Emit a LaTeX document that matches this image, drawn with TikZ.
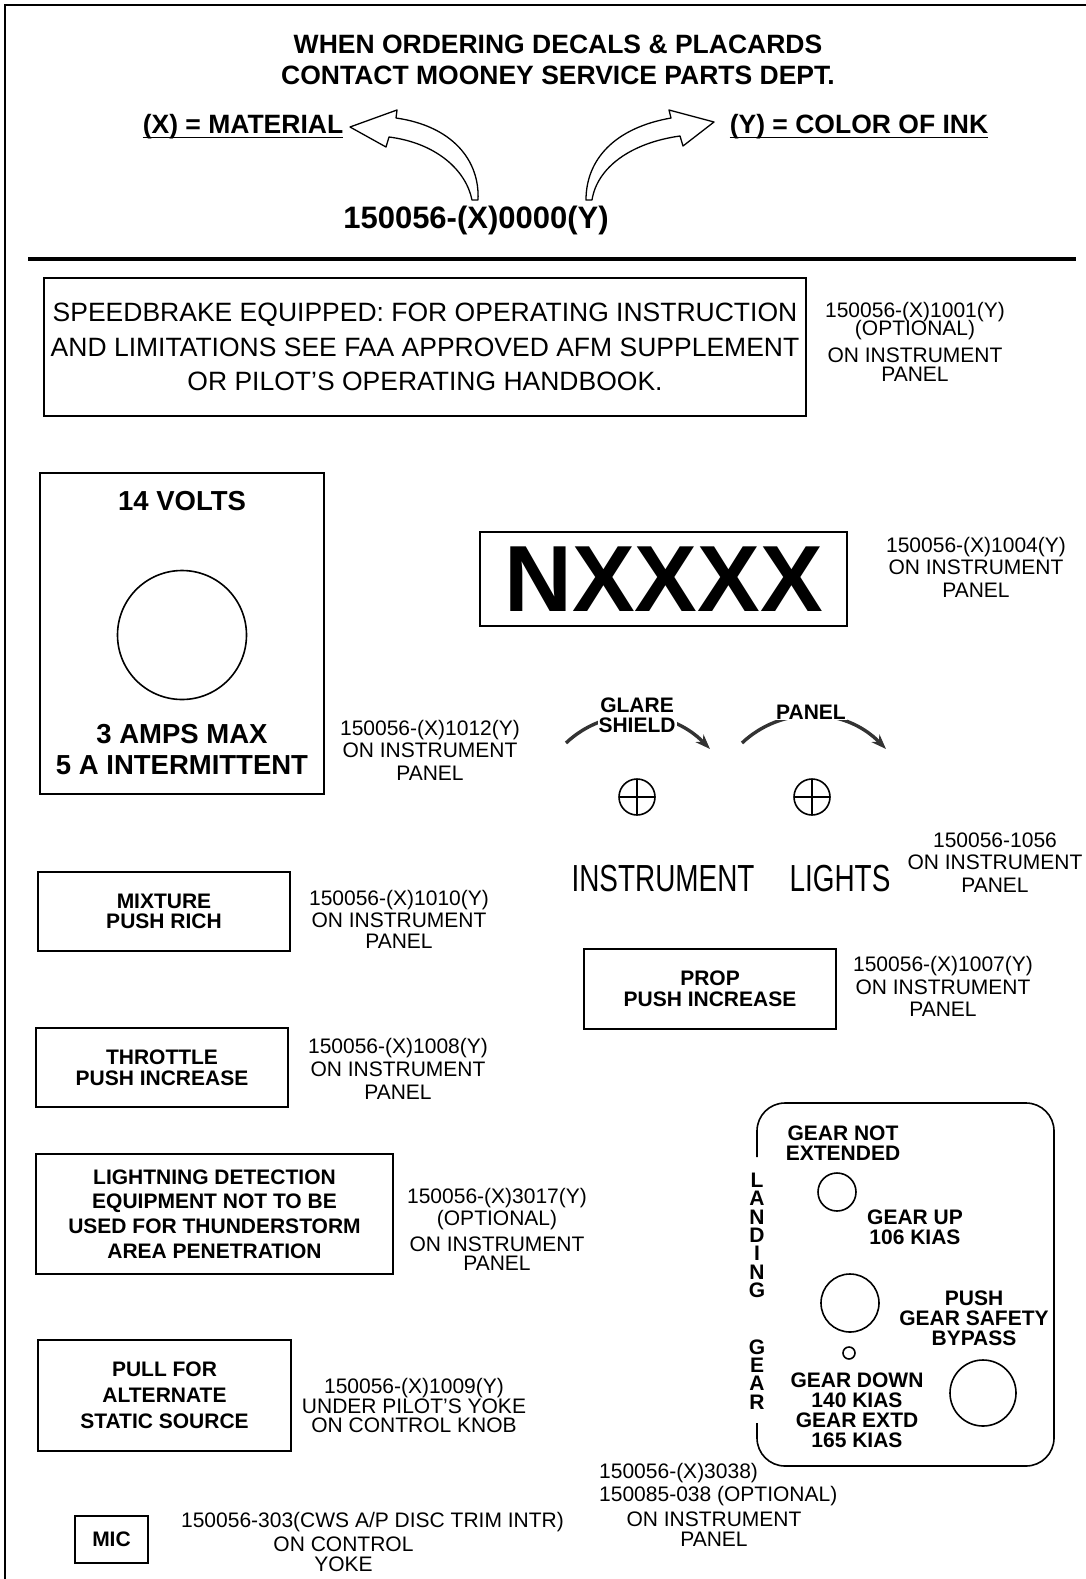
\documentclass[tikz,border=0pt]{standalone}
\usepackage{fontspec}
\setmainfont{Liberation Sans}
\newfontfamily\narrowfont[FakeStretch=0.74]{Liberation Sans}
\usetikzlibrary{arrows.meta}

\tikzset{
  lbl/.style={font=\fontsize{21}{22.5}\selectfont, align=center, inner sep=0pt},
  boldtxt/.style={font=\bfseries\fontsize{21}{20}\selectfont, align=center, inner sep=0pt},
  plac/.style={draw, line width=1.6pt, inner sep=0pt, align=center, font=\bfseries\fontsize{21}{21}\selectfont},
  hollowarrow/.style={draw, line width=1.3pt, fill=white, line join=round},
  knob/.style={line width=1.6pt},
  swing/.style={line width=3.4pt, draw=black!80, -{Stealth[length=15pt, width=11pt]}},
}

\begin{document}
\begin{tikzpicture}[x=1pt, y=-1pt]
  \useasboundingbox (0,0) rectangle (1086,1579);
  %cadre
  \draw[line width=2.4pt] (1086,5) -- (5,5) -- (5,1579);
  \draw[line width=3.5pt] (28,259) -- (1076,259);
  %commande
  \node[boldtxt, font=\bfseries\fontsize{26.5}{31.5}\selectfont] (order) at (558,60)
    {WHEN ORDERING DECALS \& PLACARDS\\CONTACT MOONEY SERVICE PARTS DEPT.};
  \node[boldtxt, font=\bfseries\fontsize{26.5}{30}\selectfont] (matX) at (243,127) {(X) = MATERIAL};
  \node[boldtxt, font=\bfseries\fontsize{26.5}{30}\selectfont] (inkY) at (859,127) {(Y) = COLOR OF INK};
  \draw[line width=1.6pt] ([yshift=2pt]matX.south west) -- ([yshift=2pt]matX.south east);
  \draw[line width=1.6pt] ([yshift=2pt]inkY.south west) -- ([yshift=2pt]inkY.south east);
  \node[boldtxt, font=\bfseries\fontsize{31}{31}\selectfont] (partno) at (476,220) {150056-(X)0000(Y)};
  %fleches creuses
  \draw[hollowarrow] (350,127) -- (397,110) -- (396,118) .. controls (452,126) and (480,160) .. (478,200)
    -- (472,200) .. controls (466,170) and (436,143) .. (389,137) -- (386,147) -- cycle;
  \draw[hollowarrow] (714,122) -- (669,110) -- (671,118) .. controls (614,128) and (586,160) .. (586,200)
    -- (592,200) .. controls (597,168) and (630,143) .. (680,136) -- (683,146) -- cycle;

  %speedbrake
  \node[plac, font=\fontsize{26.5}{34.5}\selectfont, minimum width=762pt, minimum height=138pt] (speed) at (425,347)
    {SPEEDBRAKE EQUIPPED: FOR OPERATING INSTRUCTION\\AND LIMITATIONS SEE FAA APPROVED AFM SUPPLEMENT\\OR PILOT'S OPERATING HANDBOOK.};
  \node[lbl] (p1001) at (915,342) {150056-(X)1001(Y)\\[-4.5pt](OPTIONAL)\\[4.5pt]ON INSTRUMENT\\[-3.5pt]PANEL};

  %volts
  \node[plac, minimum width=284pt, minimum height=321pt] (volts) at (182,633.5) {};
  \node[boldtxt, font=\bfseries\fontsize{27.5}{31}\selectfont] (v14) at (182,501) {14 VOLTS};
  \draw[knob] (182,635) circle (64.5pt);
  \node[boldtxt, font=\bfseries\fontsize{27.5}{31}\selectfont] (amps) at (182,749.5) {3 AMPS MAX\\5 A INTERMITTENT};
  \node[lbl] (p1012) at (430,750) {150056-(X)1012(Y)\\ON INSTRUMENT\\PANEL};

  %immatriculation
  \node[plac, font=\bfseries\fontsize{94}{94}\selectfont, minimum width=367pt, minimum height=94pt] (reg) at (663.5,579) {NXXXX};
  \node[lbl] (p1004) at (976,567) {150056-(X)1004(Y)\\ON INSTRUMENT\\PANEL};

  %eclairage
  \draw[swing] (566,743) .. controls (605,706) and (668,706) .. (710,749);
  \draw[swing] (742,743) .. controls (781,706) and (844,706) .. (886,749);
  \node[boldtxt, fill=white, inner sep=1pt] (glare) at (637,715) {GLARE\\SHIELD};
  \node[boldtxt, fill=white, inner sep=1pt] (panelsw) at (811,712) {PANEL};
  \foreach \x in {637,812}{
    \draw[knob] (\x,797) circle (18pt);
    \draw[line width=1.3pt] (\x-17,797) -- (\x+17,797) (\x,780) -- (\x,814);
  }
  \node[inner sep=0pt, font=\narrowfont\fontsize{37.7}{38}\selectfont] (instr) at (663,879) {INSTRUMENT};
  \node[inner sep=0pt, font=\narrowfont\fontsize{37.7}{38}\selectfont] (lights) at (840,879) {LIGHTS};
  \node[lbl] (p1056) at (995,862.5) {150056-1056\\ON INSTRUMENT\\PANEL};

  %commandes
  \node[plac, font=\bfseries\fontsize{21}{20}\selectfont, minimum width=252pt, minimum height=79pt] (mix) at (164,911.5) {MIXTURE\\PUSH RICH};
  \node[lbl, font=\fontsize{21}{21.5}\selectfont] (p1010) at (399,919.5) {150056-(X)1010(Y)\\ON INSTRUMENT\\PANEL};
  \node[plac, minimum width=252pt, minimum height=80pt] (prop) at (710,989) {PROP\\PUSH INCREASE};
  \node[lbl] (p1007) at (943,986.5) {150056-(X)1007(Y)\\ON INSTRUMENT\\PANEL};
  \node[plac, minimum width=252pt, minimum height=79pt] (throttle) at (162,1067.5) {THROTTLE\\PUSH INCREASE};
  \node[lbl, font=\fontsize{21}{23}\selectfont] (p1008) at (398,1069) {150056-(X)1008(Y)\\ON INSTRUMENT\\PANEL};
  \node[plac, font=\bfseries\fontsize{21}{24.7}\selectfont, minimum width=357pt, minimum height=120pt] (storm) at (214.5,1214)
    {LIGHTNING DETECTION\\EQUIPMENT NOT TO BE\\USED FOR THUNDERSTORM\\AREA PENETRATION};
  \node[lbl] (p3017) at (497,1229.5) {150056-(X)3017(Y)\\[-0.5pt](OPTIONAL)\\[3.5pt]ON INSTRUMENT\\[-3.5pt]PANEL};
  \node[plac, font=\bfseries\fontsize{21}{26}\selectfont, minimum width=253pt, minimum height=111pt] (static) at (164.5,1395.5)
    {PULL FOR\\ALTERNATE\\STATIC SOURCE};
  \node[lbl, font=\fontsize{21}{19.5}\selectfont] (p1009) at (414,1405.5) {150056-(X)1009(Y)\\UNDER PILOT'S YOKE\\ON CONTROL KNOB};
  \node[plac, minimum width=73pt, minimum height=47pt] (mic) at (111.5,1539.5) {MIC};
  \node[lbl] (p303) at (372.5,1522) {150056-303(CWS A/P DISC TRIM INTR)};
  \node[lbl, font=\fontsize{21}{20}\selectfont] (p303b) at (343.5,1554) {ON CONTROL\\YOKE};

  %train
  \draw[knob, rounded corners=28pt] (757,1157) -- (757,1103) -- (1054,1103) -- (1054,1466) -- (757,1466) -- (757,1423);
  \foreach \ch [count=\i from 0] in {L,A,N,D,I,N,G}
    \node[boldtxt] (land\i) at (757,1180+18.4*\i) {\ch};
  \foreach \ch [count=\i from 0] in {G,E,A,R}
    \node[boldtxt] (gear\i) at (757,1347+18.3*\i) {\ch};
  \node[boldtxt] (notext) at (843,1143) {GEAR NOT\\EXTENDED};
  \draw[knob] (837,1192) circle (19pt);
  \node[boldtxt] (gearup) at (915,1227) {GEAR UP\\106 KIAS};
  \draw[knob] (850,1303) circle (29pt);
  \draw[knob] (849,1353) circle (6pt);
  \node[boldtxt] (bypass) at (974,1318) {PUSH\\GEAR SAFETY\\BYPASS};
  \draw[knob] (983,1393) circle (33pt);
  \node[boldtxt] (geardown) at (857,1410) {GEAR DOWN\\140 KIAS\\GEAR EXTD\\165 KIAS};
  \node[lbl, align=left, anchor=west, font=\fontsize{21}{23}\selectfont] (p3038) at (599,1484.5) {150056-(X)3038)\\150085-038 (OPTIONAL)};
  \node[lbl, font=\fontsize{21}{20}\selectfont] (p3038b) at (714,1529) {ON INSTRUMENT\\PANEL};
\end{tikzpicture}
\end{document}
